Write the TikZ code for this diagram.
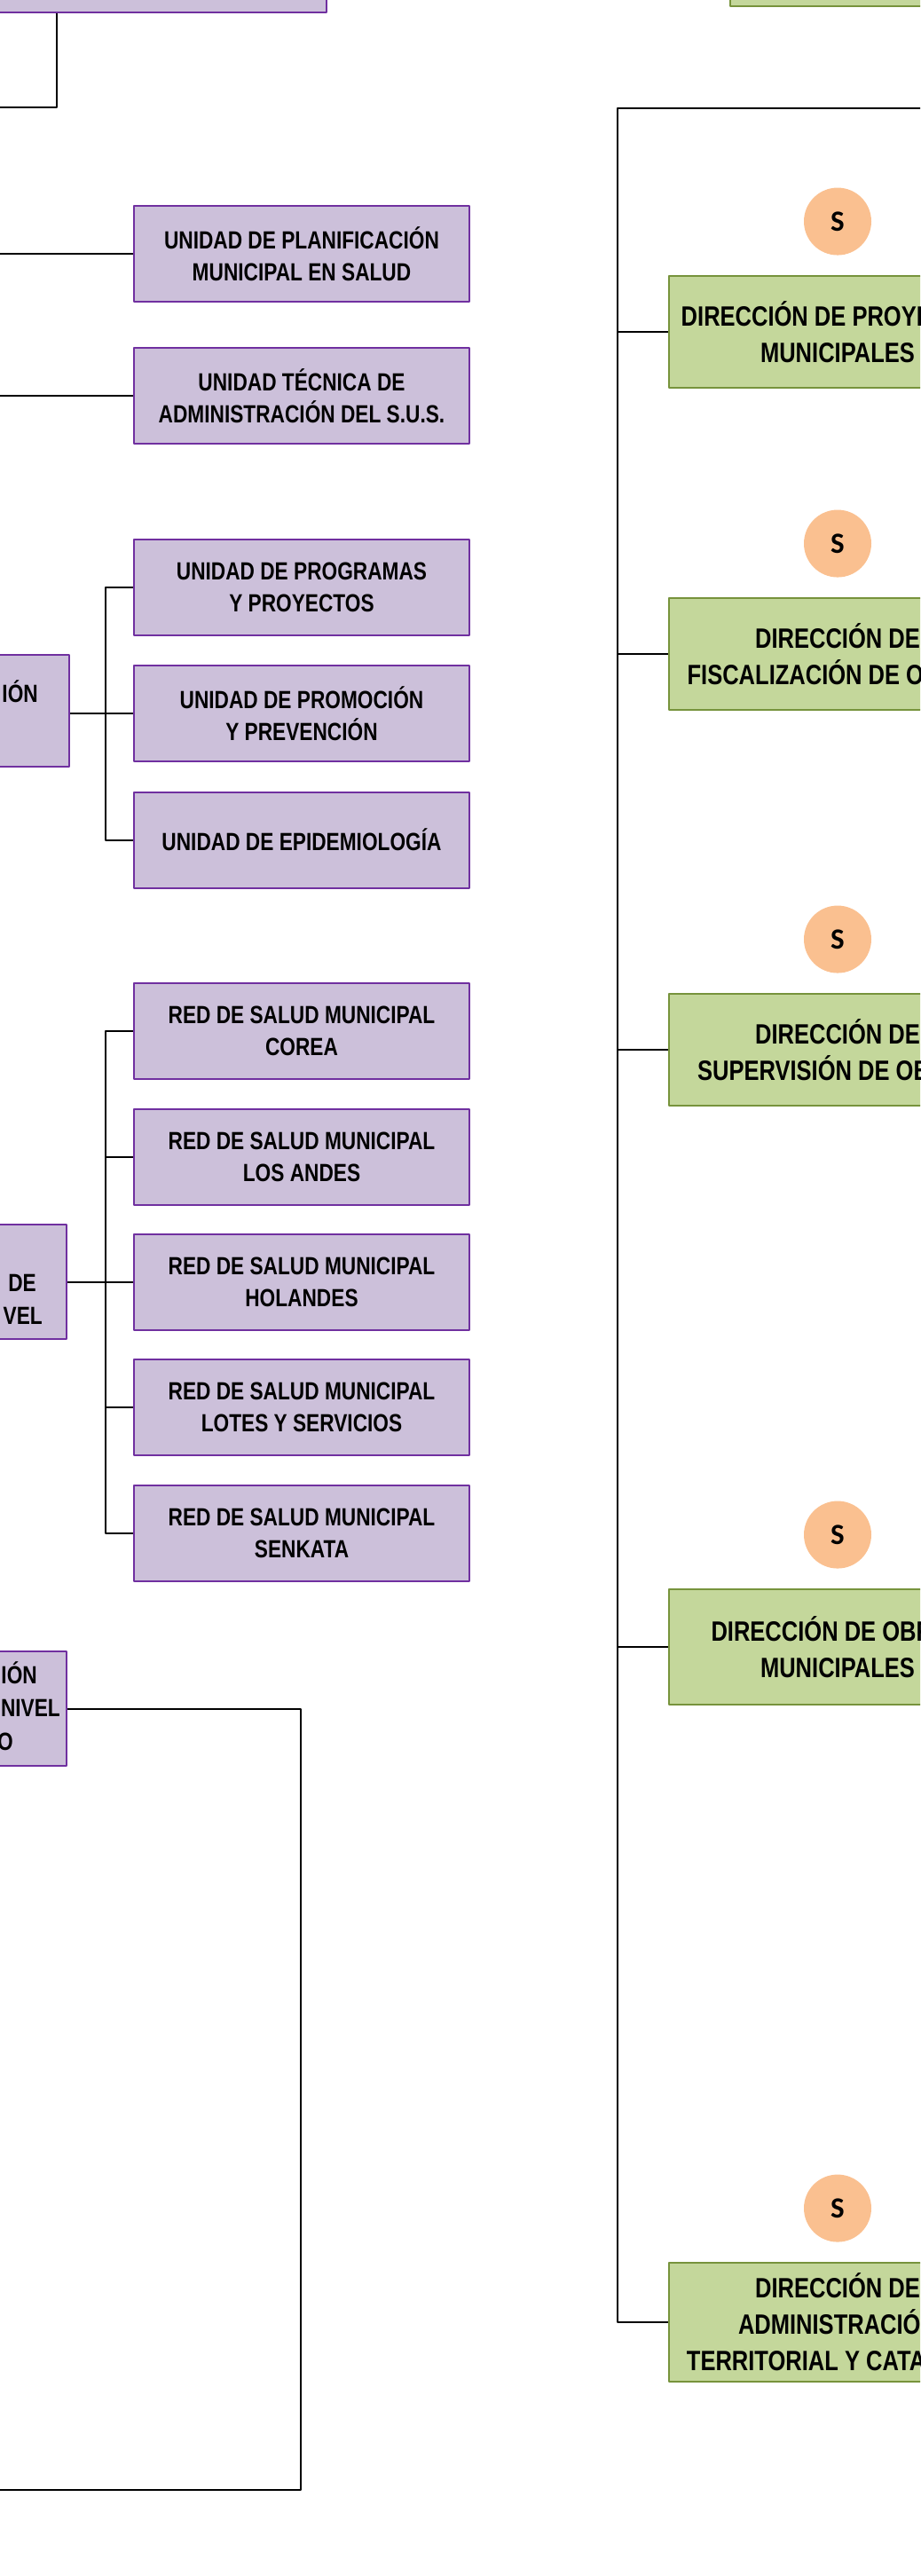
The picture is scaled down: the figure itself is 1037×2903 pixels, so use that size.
\documentclass[tikz,border=0pt]{standalone}
\usepackage{fontspec}
\newfontfamily\letraorg{Liberation Sans}[FakeStretch=0.81]
\newfontfamily\letrasello{Carlito}
\usetikzlibrary{positioning}
\definecolor{lila}{HTML}{CCC0DA}
\definecolor{morado}{HTML}{7030A0}
\definecolor{oliva}{HTML}{C4D79B}
\definecolor{olivaosc}{HTML}{77933C}
\definecolor{durazno}{HTML}{FAC090}
\begin{document}
\begin{tikzpicture}[x=1pt,y=-1pt,line join=round,
	unidad/.style={draw=morado,fill=lila,line width=2pt,minimum width=378pt,minimum height=108pt,inner sep=0pt,align=center,font=\letraorg\bfseries\fontsize{28}{36}\selectfont},
	direccion/.style={draw=olivaosc,fill=oliva,line width=2.5pt,minimum width=380pt,minimum height=126pt,inner sep=0pt,align=center,font=\letraorg\bfseries\fontsize{31.5}{41}\selectfont},
	sello/.style={circle,fill=durazno,minimum size=76pt,inner sep=0pt,font=\letrasello\bfseries\fontsize{33}{33}\selectfont},
	trozo/.style={anchor=base east,inner sep=0pt,font=\letraorg\bfseries\fontsize{28}{36}\selectfont},
	linea/.style={line width=2pt}]
	\useasboundingbox (0,0) rectangle (1037,2903);
	\clip (0,0) rectangle (1037,2903);
	% columna izquierda
	\node[unidad,minimum width=418pt] (sup) at (159,-40) {};
	\node[unidad] (plan) at (340,286) {UNIDAD DE PLANIFICACIÓN\\MUNICIPAL EN SALUD};
	\node[unidad] (tec) at (340,446) {UNIDAD TÉCNICA DE\\ADMINISTRACIÓN DEL S.U.S.};
	\node[unidad] (prog) at (340,661.5) {UNIDAD DE PROGRAMAS\\Y PROYECTOS};
	\node[unidad,below=32.5pt of prog] (prom) {UNIDAD DE PROMOCIÓN\\Y PREVENCIÓN};
	\node[unidad,below=32.5pt of prom] (epi) {UNIDAD DE EPIDEMIOLOGÍA};
	\foreach \nom [count=\i] in {COREA,LOS ANDES,HOLANDES,LOTES Y SERVICIOS,SENKATA}
		\node[unidad] (red\i) at (340,{1021+141.3*\i}) {RED DE SALUD MUNICIPAL\\\nom};
	\node[unidad,minimum height=126pt] (cajaA) at (-111,801) {};
	\node[trozo] (tA) at (43,791) {IÓN};
	\node[unidad,minimum height=129pt] (cajaB) at (-114,1444.5) {};
	\node[trozo] (tB1) at (41,1455) {DE};
	\node[trozo] (tB2) at (48,1492) {VEL};
	\node[unidad,minimum height=129pt] (cajaC) at (-114,1925.5) {};
	\node[trozo] (tC1) at (42,1897) {IÓN};
	\node[trozo] (tC2) at (68,1934) {NIVEL};
	\node[trozo] (tC3) at (15,1972) {O};
	\coordinate (ext0) at (-5,121);
	\coordinate (ext1) at (-5,286);
	\coordinate (ext2) at (-5,446);
	\coordinate (c3) at (339,2806);
	\coordinate (ext3) at (-5,2806);
	\draw[linea] ([xshift=115pt]sup.south west) |- (ext0);
	\draw[linea] (ext1) -- (plan.west);
	\draw[linea] (ext2) -- (tec.west);
	\draw[linea] (prom.west -| cajaA.east) -- (prom.west);
	\draw[linea] (prog.west) -- ++(-31,0) |- (epi.west);
	\draw[linea] (red3.west -| cajaB.east) -- (red3.west);
	\draw[linea] (red1.west) -- ++(-31,0) |- (red5.west);
	\foreach \i in {2,3,4}
		\draw[linea] (red\i.west) -- ++(-31,0);
	\draw[linea] (cajaC.east) -| (c3) -- (ext3);
	% columna derecha
	\node[direccion] (cima) at (1013,-56) {};
	\node[direccion] (d1) at (944,374) {DIRECCIÓN DE PROYECTOS\\MUNICIPALES};
	\node[direccion] (d2) at (944,737) {DIRECCIÓN DE\\FISCALIZACIÓN DE OBRAS};
	\node[direccion] (d3) at (944,1183) {DIRECCIÓN DE\\SUPERVISIÓN DE OBRAS};
	\node[direccion,minimum height=130pt] (d4) at (944,1856) {DIRECCIÓN DE OBRAS\\MUNICIPALES};
	\node[direccion,minimum height=134pt] (d5) at (944,2617) {DIRECCIÓN DE\\ADMINISTRACIÓN\\TERRITORIAL Y CATASTRO};
	\foreach \i in {1,...,5}
		\node[sello,above=22pt of d\i] (s\i) {S};
	\coordinate (ext4) at (1045,122);
	\coordinate (esq) at (696,122);
	\draw[linea] (ext4) -- (esq) |- (d5.west);
	\foreach \i in {1,...,4}
		\draw[linea] (esq |- d\i.west) -- (d\i.west);
\end{tikzpicture}
\end{document}
